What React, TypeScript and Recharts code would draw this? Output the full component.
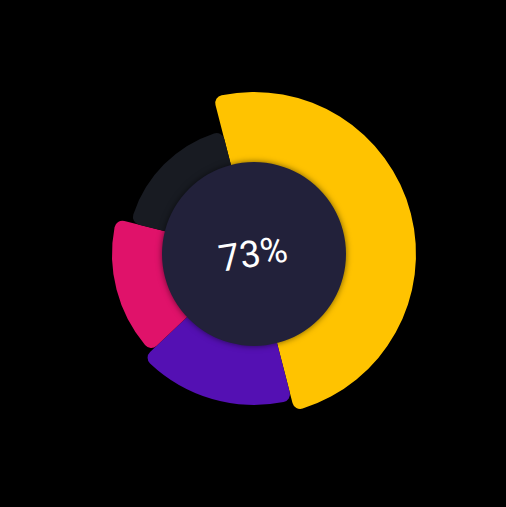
import { Cell, Label, Pie, PieChart } from 'recharts';

type Slice = {
  name: string;
  value: number;
};

const sliceNames = ['Gold', 'Violet', 'Rose', 'Slate'];
const sliceValues = [50, 17, 16, 17];
const sliceColors = ['#FFC300', '#5410B3', '#E0126A', '#181B22'];
const sliceRadii = [162, 151, 142, 127];
const centerText = '73%';

const data: Slice[] = sliceNames.map((name, i) => ({ name, value: sliceValues[i] }));

const CX = 254;
const CY = 254;

export default function App() {
  return (
    <div
      style={{
        position: 'fixed',
        left: 0,
        top: 0,
        width: 506,
        height: 507,
        background: '#000000',
      }}
    >
      <PieChart width={506} height={507} margin={{ top: 0, right: 0, bottom: 0, left: 0 }}>
        {sliceRadii.map((r, idx) => (
          <Pie
            key={`ring-${idx}`}
            data={data}
            dataKey="value"
            cx={CX}
            cy={CY}
            startAngle={104.5}
            endAngle={-255.5}
            innerRadius={80}
            outerRadius={r}
            cornerRadius={8}
            stroke="none"
            isAnimationActive={false}
          >
            {data.map((d, i) => (
              <Cell
                key={`cell-${idx}-${d.name}`}
                fill={i === idx ? sliceColors[i] : 'transparent'}
              />
            ))}
          </Pie>
        ))}
        <Pie
          data={[{ name: 'center', value: 1 }]}
          dataKey="value"
          cx={CX}
          cy={CY}
          innerRadius={0}
          outerRadius={92}
          stroke="none"
          isAnimationActive={false}
        >
          <Cell
            fill="#22213A"
            style={{ filter: 'drop-shadow(0px 0px 3px rgba(0,0,0,0.55))' }}
          />
          <Label
            position="center"
            value={centerText}
            angle={-9}
            fill="#ffffff"
            fontSize={37}
            fontFamily="Roboto, 'Noto Sans', sans-serif"
          />
        </Pie>
      </PieChart>
    </div>
  );
}
